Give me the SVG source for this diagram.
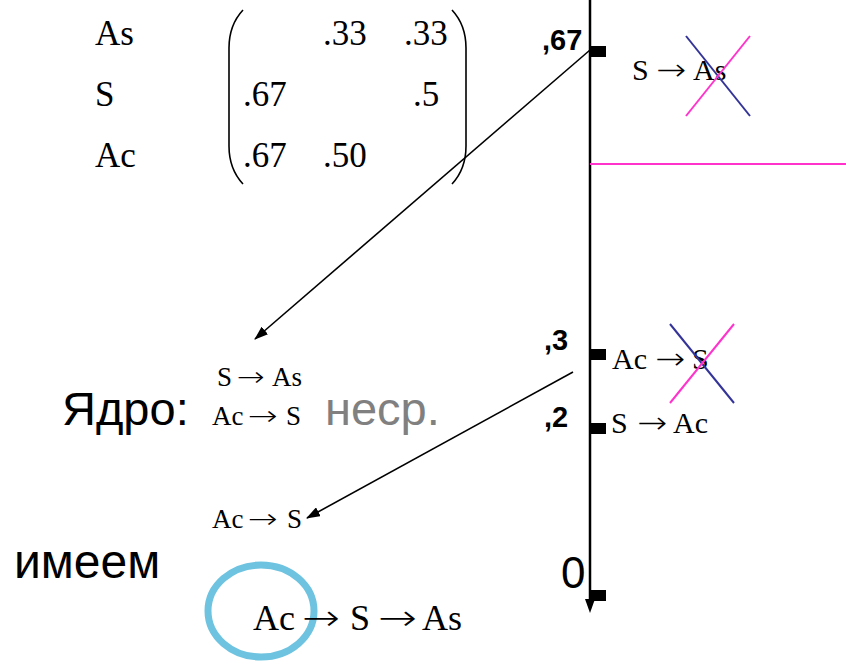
<svg xmlns="http://www.w3.org/2000/svg" width="846" height="671" viewBox="0 0 846 671">
<style>
.t{font-family:"Liberation Serif","Times New Roman",serif;fill:#000}
.ar{font-family:"DejaVu Sans",sans-serif;font-weight:200;fill:#000}
.s{font-family:"Liberation Sans",Arial,sans-serif;fill:#000}
.b{font-family:"Liberation Sans",Arial,sans-serif;font-weight:bold;font-size:29px;fill:#000}
.ln{stroke:#000;stroke-width:1.6;fill:none}
.pk{stroke:#FF33CC;stroke-width:2;fill:none}
.bl{stroke:#333399;stroke-width:2;fill:none}
</style>
<defs>
<marker id="ah2" viewBox="0 0 14 10" refX="13" refY="5" markerWidth="14" markerHeight="10" markerUnits="userSpaceOnUse" orient="auto">
<path d="M0,0 L14,5 L0,10 z" fill="#000"/>
</marker>
</defs>

<g id="matrix">
<text class="t" x="95" y="45" font-size="35">As</text>
<text class="t" x="95" y="106" font-size="35">S</text>
<text class="t" x="95" y="167" font-size="35">Ac</text>
<path class="ln" d="M243,10 Q229,25 229,48 L229,146 Q229,169 243,184" stroke-width="2"/>
<path class="ln" d="M452,10 Q466,25 466,48 L466,146 Q466,169 452,184" stroke-width="2"/>
<text class="t" x="323" y="45" font-size="35">.33</text>
<text class="t" x="404" y="45" font-size="35">.33</text>
<text class="t" x="243" y="106" font-size="35">.67</text>
<text class="t" x="413" y="106" font-size="35">.5</text>
<text class="t" x="243" y="167" font-size="35">.67</text>
<text class="t" x="323" y="167" font-size="35">.50</text>
</g>

<g id="axis">
<line x1="590" y1="0" x2="590" y2="602" stroke="#000" stroke-width="2.5"/>
<path d="M585,599 L595,599 L590,613 z" fill="#000"/>
<rect x="590" y="46" width="16" height="11" fill="#000"/>
<rect x="590" y="349" width="16" height="11" fill="#000"/>
<rect x="590" y="423" width="16" height="11" fill="#000"/>
<rect x="590" y="590" width="16" height="11" fill="#000"/>
<text class="b" x="542" y="50">,67</text>
<text class="b" x="544" y="350">,3</text>
<text class="b" x="544" y="427">,2</text>
<text class="s" x="561" y="588" font-size="44">0</text>
<line class="pk" x1="590" y1="164" x2="846" y2="164"/>
</g>

<g id="rule-top">
<text class="t" x="632" y="80" font-size="30">S</text>
<text class="ar" x="656" y="80" font-size="30" textLength="30" lengthAdjust="spacingAndGlyphs">→</text>
<text class="t" x="693" y="80" font-size="30">As</text>
<line class="bl" x1="686" y1="36" x2="750" y2="116"/>
<line class="pk" x1="686" y1="116" x2="750" y2="36"/>
</g>

<g id="rule-mid">
<text class="t" x="612" y="369" font-size="30">Ac</text>
<text class="ar" x="655" y="369" font-size="30" textLength="30" lengthAdjust="spacingAndGlyphs">→</text>
<text class="t" x="692" y="369" font-size="30">S</text>
<line class="bl" x1="670" y1="324" x2="734" y2="403"/>
<line class="pk" x1="670" y1="403" x2="734" y2="324"/>
</g>

<g id="rule-low">
<text class="t" x="611" y="433" font-size="30">S</text>
<text class="ar" x="637" y="433" font-size="30" textLength="30" lengthAdjust="spacingAndGlyphs">→</text>
<text class="t" x="673" y="433" font-size="30">Ac</text>
</g>

<g id="core">
<text class="s" x="62" y="425" font-size="47">Ядро:</text>
<text class="t" x="217" y="386" font-size="27">S</text>
<text class="ar" x="237" y="386" font-size="27" textLength="28" lengthAdjust="spacingAndGlyphs">→</text>
<text class="t" x="272" y="386" font-size="27">As</text>
<text class="t" x="212" y="425" font-size="27">Ac</text>
<text class="ar" x="248" y="425" font-size="27" textLength="30" lengthAdjust="spacingAndGlyphs">→</text>
<text class="t" x="286" y="425" font-size="27">S</text>
<text class="s" x="325" y="425" font-size="47" style="fill:#808080">несp.</text>
</g>

<g id="result1">
<text class="t" x="212" y="528" font-size="27">Ac</text>
<text class="ar" x="248" y="528" font-size="27" textLength="30" lengthAdjust="spacingAndGlyphs">→</text>
<text class="t" x="287" y="528" font-size="27">S</text>
</g>

<g id="result2">
<text class="s" x="14" y="578" font-size="48">имеем</text>
<ellipse cx="261" cy="611" rx="53" ry="46" fill="none" stroke="#6EC3E0" stroke-width="7"/>
<text class="t" x="253" y="630" font-size="36">Ac</text>
<text class="ar" x="302" y="630" font-size="36" textLength="38" lengthAdjust="spacingAndGlyphs">→</text>
<text class="t" x="350" y="630" font-size="36">S</text>
<text class="ar" x="378" y="630" font-size="36" textLength="39" lengthAdjust="spacingAndGlyphs">→</text>
<text class="t" x="422" y="630" font-size="36">As</text>
</g>

<g id="connectors">
<line class="ln" x1="590" y1="50" x2="255" y2="339" marker-end="url(#ah2)"/>
<line class="ln" x1="573" y1="372" x2="307" y2="518" marker-end="url(#ah2)"/>
</g>
</svg>
